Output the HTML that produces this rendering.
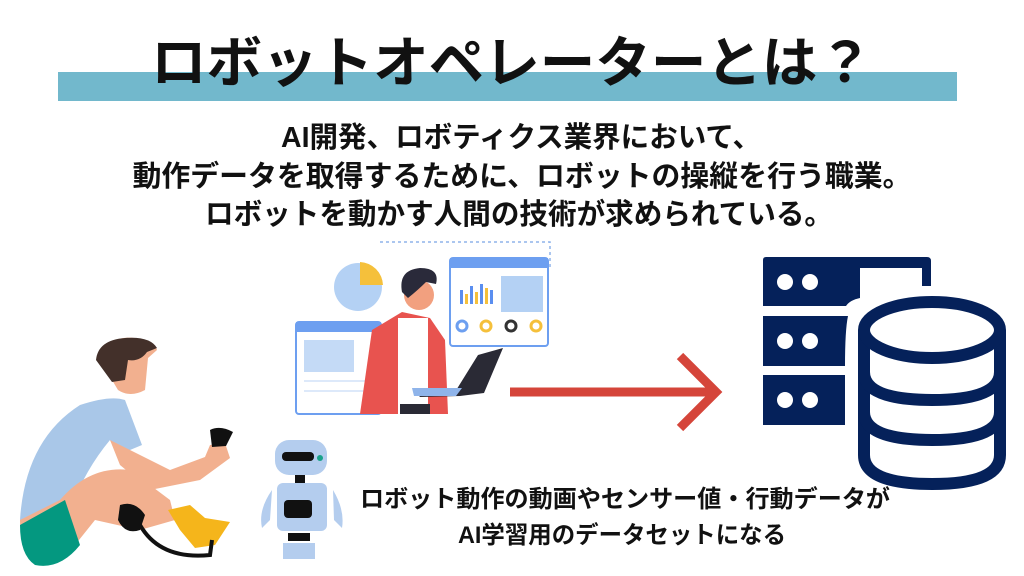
<!DOCTYPE html>
<html><head><meta charset="utf-8"><style>
html,body{margin:0;padding:0;background:#fff}
svg{display:block}
text{font-family:"Liberation Sans","Noto Sans CJK JP",sans-serif;font-weight:700;fill:#111}
</style></head><body>
<svg width="1024" height="576" viewBox="0 0 1024 576" xmlns="http://www.w3.org/2000/svg">
<rect x="58" y="72" width="899" height="29" fill="#72b8cc"/>
<text x="512" y="82" font-size="55" text-anchor="middle" textLength="722" lengthAdjust="spacingAndGlyphs">ロボットオペレーターとは？</text>
<text x="521" y="147" font-size="29" text-anchor="middle" textLength="480" lengthAdjust="spacingAndGlyphs">AI開発、ロボティクス業界において、</text>
<text x="522" y="186" font-size="29" text-anchor="middle" textLength="779" lengthAdjust="spacingAndGlyphs">動作データを取得するために、ロボットの操縦を行う職業。</text>
<text x="519" y="224" font-size="29" text-anchor="middle" textLength="628" lengthAdjust="spacingAndGlyphs">ロボットを動かす人間の技術が求められている。</text>
<text x="625" y="507" font-size="24" text-anchor="middle" textLength="530" lengthAdjust="spacingAndGlyphs">ロボット動作の動画やセンサー値・行動データが</text>
<text x="622" y="543" font-size="24" text-anchor="middle" textLength="328" lengthAdjust="spacingAndGlyphs">AI学習用のデータセットになる</text>

<!-- arrow -->
<line x1="510" y1="392" x2="716" y2="392" stroke="#d5453a" stroke-width="9"/>
<polyline points="680,356 716,392 680,428" fill="none" stroke="#d5453a" stroke-width="9"/>

<!-- server/db icon -->
<g fill="#05215a">
<path d="M766,257 H927 Q931,257 931,261 V286 H922 V268 H860 V298 Q850,300 846,306 H763 V260 Q763,257 766,257Z"/>
<path d="M763,316 H848 Q845,330 845,366 H763Z"/>
<rect x="763" y="375" width="82" height="50"/>
</g>
<g fill="#fff">
<circle cx="785" cy="282" r="8"/><circle cx="810" cy="282" r="8"/>
<circle cx="785" cy="341" r="8"/><circle cx="810" cy="341" r="8"/>
<circle cx="785" cy="400" r="8"/><circle cx="810" cy="400" r="8"/>
</g>
<g fill="none" stroke="#05215a" stroke-width="12">
<path d="M864,330 V455 Q864,484 932,484 Q1000,484 1000,455 V330"/>
<ellipse cx="932" cy="330" rx="68" ry="28" fill="#fff"/>
<path d="M864,372 Q864,400 932,400 Q1000,400 1000,372"/>
<path d="M864,412 Q864,440 932,440 Q1000,440 1000,412"/>
</g>

<!-- person with laptop illustration -->
<path d="M380,242 H550 V268" fill="none" stroke="#8fb4ea" stroke-width="1.5" stroke-dasharray="3,3"/>
<circle cx="358" cy="287" r="24" fill="#b4d1f4"/>
<path d="M360,262 A24,24 0 0 1 383,285 H360Z" fill="#f5c03b"/>
<rect x="296" y="322" width="85" height="92" rx="3" fill="#fff" stroke="#6d9ff0" stroke-width="2"/>
<rect x="296" y="322" width="85" height="10" fill="#6d9ff0"/>
<rect x="304" y="340" width="50" height="32" fill="#c4daf6"/>
<rect x="304" y="380" width="70" height="2" fill="#dde9fa"/><rect x="304" y="390" width="70" height="2" fill="#dde9fa"/>
<rect x="450" y="258" width="98" height="88" rx="3" fill="#fff" stroke="#6d9ff0" stroke-width="2"/>
<rect x="450" y="258" width="98" height="10" fill="#6d9ff0"/>
<rect x="501" y="276" width="42" height="36" fill="#b4d1f4"/>
<g fill="#5a8ef0"><rect x="460" y="290" width="3" height="14"/><rect x="470" y="286" width="3" height="18"/><rect x="480" y="284" width="3" height="20"/><rect x="490" y="290" width="3" height="14"/></g>
<g fill="#f5c03b"><rect x="465" y="294" width="3" height="10"/><rect x="475" y="292" width="3" height="12"/><rect x="485" y="288" width="3" height="16"/></g>
<g fill="none" stroke-width="3"><circle cx="462" cy="326" r="5" stroke="#6d9ff0"/><circle cx="486" cy="326" r="5" stroke="#f5c03b"/><circle cx="511" cy="326" r="5" stroke="#333"/><circle cx="536" cy="326" r="5" stroke="#f5c03b"/></g>
<path d="M360,414 L372,330 L402,312 L430,318 L445,340 L448,414Z" fill="#e8534f"/>
<rect x="398" y="318" width="30" height="96" fill="#fff"/>
<rect x="400" y="404" width="30" height="10" fill="#2a2a35"/>
<circle cx="419" cy="295" r="15" fill="#f2a07f"/>
<path d="M402,292 Q398,270 420,268 Q440,268 436,284 L426,282 Q418,290 408,298Z" fill="#2a2a3a"/>
<path d="M415,391 L455,392 L478,355 L503,348 L484,393 L460,396 L420,397Z" fill="#2a2a35"/>
<path d="M412,388 L462,388 L456,396 L414,396Z" fill="#8fb4ea"/>

<!-- boy -->
<path d="M100,355 Q110,335 135,338 Q155,340 157,350 L148,358 L145,390 Q130,398 118,390 L112,380 Z" fill="#f2b08f"/>
<path d="M96,360 Q98,340 125,338 Q150,336 157,348 L147,352 Q140,362 128,360 L125,380 L112,382 Z" fill="#43302a"/>
<path d="M20,520 Q25,440 80,405 Q110,395 125,400 L142,445 L118,455 L110,440 Q85,470 70,510 Z" fill="#a9c7e8"/>
<path d="M110,440 L170,470 L205,457 L210,445 L225,443 L230,458 L200,480 L150,490 L120,465Z" fill="#f2b08f"/>
<path d="M60,500 Q90,465 130,470 L170,500 L175,520 L140,530 L95,520 L75,545 Q55,560 30,560 Q20,540 20,520Z" fill="#f2b08f"/>
<path d="M20,525 L65,500 L80,545 Q60,570 35,565 Q20,555 20,525Z" fill="#049880"/>
<path d="M168,510 L190,505 L205,518 L230,522 L215,545 L195,548 L180,530Z" fill="#f5b51b"/>
<path d="M120,505 Q135,500 145,515 L140,530 Q125,535 118,520Z" fill="#111"/>
<path d="M140,525 Q160,560 210,555 L212,540" fill="none" stroke="#111" stroke-width="4"/>
<path d="M210,430 Q220,425 233,432 L226,446 L212,447Z" fill="#111"/>

<!-- robot -->
<rect x="275" y="440" width="52" height="35" rx="14" fill="#b4cdee"/>
<rect x="282" y="452" width="32" height="9" rx="4" fill="#111"/>
<circle cx="320" cy="458" r="3" fill="#1aa28a"/>
<rect x="295" y="475" width="10" height="8" fill="#111"/>
<rect x="277" y="483" width="50" height="48" rx="6" fill="#b4cdee"/>
<path d="M272,490 Q258,510 262,528 L270,520Z M333,490 Q345,510 342,528 L334,520Z" fill="#b4cdee"/>
<rect x="284" y="500" width="28" height="18" rx="4" fill="#111"/>
<rect x="283" y="543" width="32" height="16" fill="#b4cdee"/>
<rect x="288" y="533" width="22" height="8" fill="#111"/>
</svg>
</body></html>
